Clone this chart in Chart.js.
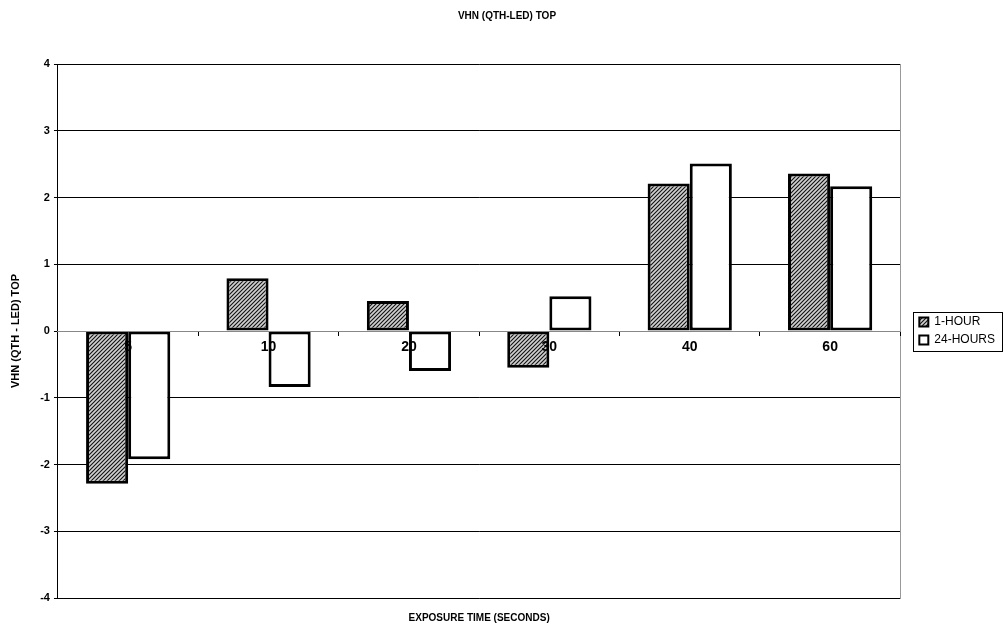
<!DOCTYPE html>
<html>
<head>
<meta charset="utf-8">
<script src="https://cdn.jsdelivr.net/npm/chart.js@4"></script>
<style>
  html, body { margin: 0; padding: 0; background: #fff; }
  #wrap { width: 1005px; height: 628px; }
</style>
</head>
<body>
<div id="wrap"><canvas id="chart" width="1005" height="628"></canvas></div>
<script>
const categories = ['5', '10', '20', '30', '40', '60'];
const oneHour = [-2.29, 0.79, 0.45, -0.55, 2.21, 2.36];
const twentyFourHours = [-1.92, -0.84, -0.60, 0.52, 2.51, 2.17];
const yTicks = [-4, -3, -2, -1, 0, 1, 2, 3, 4];

// hatched fill for the 1-HOUR series
function makeHatch() {
    const c = document.createElement('canvas');
    c.width = 4;
    c.height = 4;
    const g = c.getContext('2d');
    g.fillStyle = '#d0d0d0';
    g.fillRect(0, 0, 4, 4);
    g.strokeStyle = '#111';
    g.lineWidth = 1.1;
    g.beginPath();
    g.moveTo(-1, 5); g.lineTo(5, -1);
    g.moveTo(-1, 1); g.lineTo(1, -1);
    g.moveTo(3, 5); g.lineTo(5, 3);
    g.stroke();
    return g.createPattern(c, 'repeat');
}
const hatch = makeHatch();

// legend sits level with the middle of the plot, in a thin box
const legendBoxPlugin = {
    id: 'legendBox',
    afterLayout(chart) {
        const lg = chart.legend;
        const a = chart.chartArea;
        if (!lg) return;
        const shift = (a.top + a.bottom) / 2 - (lg.top + lg.bottom) / 2;
        lg.top += shift;
        lg.bottom += shift;
    },
    afterDraw(chart) {
        const lg = chart.legend;
        if (!lg || !lg.legendHitBoxes || !lg.legendHitBoxes.length) return;
        const boxes = lg.legendHitBoxes;
        const top = boxes[0].top - 4;
        const last = boxes[boxes.length - 1];
        const bottom = last.top + last.height + 5;
        const ctx = chart.ctx;
        ctx.save();
        ctx.strokeStyle = '#000';
        ctx.lineWidth = 1;
        ctx.strokeRect(Math.round(lg.left) + 0.5, Math.round(top) + 0.5, Math.round(lg.width) - 3, Math.round(bottom - top));
        ctx.restore();
    }
};

const bold = { family: 'Arial, "Liberation Sans", sans-serif', weight: 'bold' };

new Chart(document.getElementById('chart'), {
    type: 'bar',
    data: {
        labels: categories,
        datasets: [{
            label: '1-HOUR',
            data: oneHour,
            backgroundColor: hatch,
            borderColor: '#000',
            borderWidth: 3,
            borderSkipped: false
        }, {
            label: '24-HOURS',
            data: twentyFourHours,
            backgroundColor: '#fff',
            borderColor: '#000',
            borderWidth: 3,
            borderSkipped: false
        }]
    },
    options: {
        responsive: false,
        animation: false,
        categoryPercentage: 0.6,
        barPercentage: 1.0,
        layout: { padding: { left: 9, right: 0, top: 0, bottom: 4 } },
        plugins: {
            title: {
                display: true,
                text: 'VHN (QTH-LED) TOP',
                color: '#000',
                font: { ...bold, size: 10 },
                padding: { top: 10, bottom: 42 }
            },
            legend: {
                position: 'right',
                labels: {
                    color: '#000',
                    font: { family: 'Arial, "Liberation Sans", sans-serif', size: 12 },
                    boxWidth: 9,
                    boxHeight: 9,
                    padding: 6,
                    generateLabels(chart) {
                        return chart.data.datasets.map((ds, i) => ({
                            text: ds.label,
                            fillStyle: ds.backgroundColor,
                            strokeStyle: '#000',
                            lineWidth: 2,
                            datasetIndex: i
                        }));
                    }
                }
            },
            tooltip: { enabled: false }
        },
        scales: {
            x: {
                type: 'category',
                position: { y: 0 },
                grid: { display: true, drawOnChartArea: false, drawTicks: true, tickLength: 4, offset: true, color: '#000', z: 1 },
                border: { display: true, color: '#888', z: 1 },
                ticks: { color: '#000', font: { ...bold, size: 14 }, padding: 4, z: 1 }
            },
            x2: {
                type: 'category',
                labels: categories,
                position: 'bottom',
                grid: { display: false },
                border: { display: false },
                ticks: { display: false },
                title: {
                    display: true,
                    text: 'EXPOSURE TIME (SECONDS)',
                    color: '#000',
                    font: { ...bold, size: 10 },
                    padding: { top: 6, bottom: 0 }
                }
            },
            y: {
                min: -4,
                max: 4,
                afterBuildTicks(scale) { scale.ticks = yTicks.map(v => ({ value: v })); },
                grid: { color: '#000', lineWidth: 1, tickLength: 4 },
                border: { display: true, color: '#000' },
                ticks: { color: '#000', font: { ...bold, size: 11 }, padding: 4 },
                title: {
                    display: true,
                    text: 'VHN (QTH - LED) TOP',
                    color: '#000',
                    font: { ...bold, size: 11 },
                    padding: { top: 0, bottom: 14 }
                }
            },
            yRight: {
                position: 'right',
                min: -4,
                max: 4,
                grid: { display: false },
                border: { display: true, color: '#999' },
                ticks: { display: false },
                afterFit(scale) { scale.width = 13; }
            }
        }
    },
    plugins: [legendBoxPlugin]
});
</script>
</body>
</html>
